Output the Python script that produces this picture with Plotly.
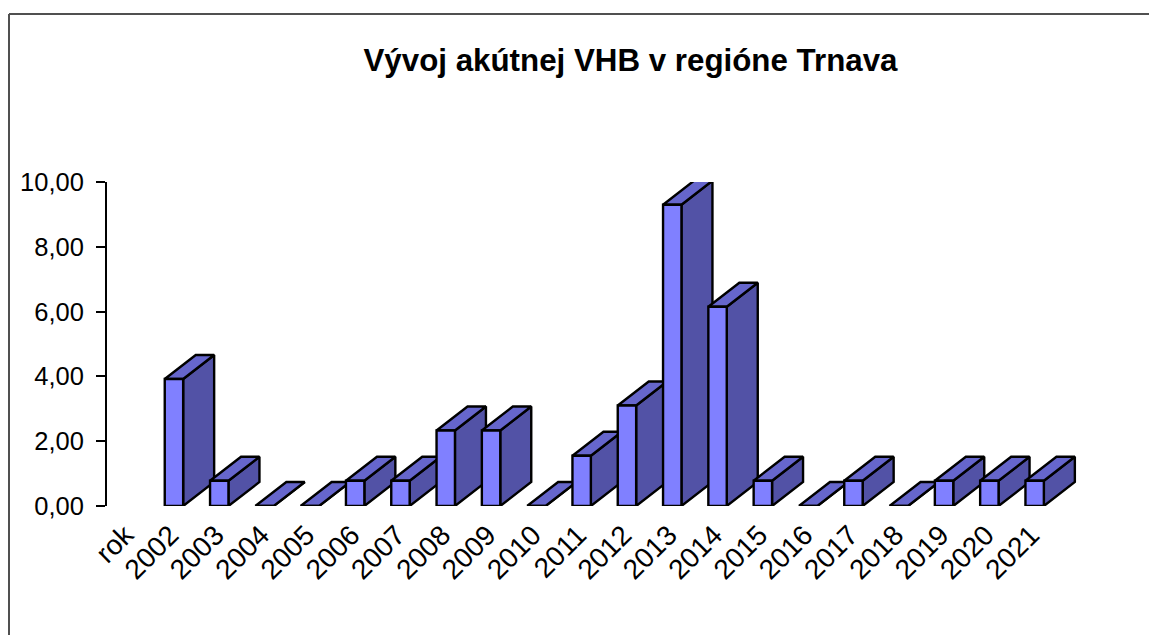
import plotly.graph_objects as go

title = "Vývoj akútnej VHB v regióne Trnava"
categories = ["rok", "2002", "2003", "2004", "2005", "2006", "2007", "2008", "2009", "2010", "2011",
              "2012", "2013", "2014", "2015", "2016", "2017", "2018", "2019", "2020", "2021"]
values = [None, 3.92, 0.78, 0, 0, 0.78, 0.78, 2.33, 2.33, 0, 1.55,
          3.10, 9.30, 6.15, 0.78, 0, 0.78, 0, 0.78, 0.78, 0.78]
y_ticks = [0, 2, 4, 6, 8, 10]

W, H = 1149, 635
L, R, T, B = 107, 0, 182, 129
STEP = 45.3
plot_w = W - L - R
x_min = -0.5 + 1 / STEP
x_max = x_min + plot_w / STEP

half = 9.2 / STEP          # half bar width, category units
dx = 31 / STEP             # depth offset, category units
dy = 24 / 32.4             # depth offset, value units
label_shift = 3.5 / STEP   # rotated labels sit slightly left of the category centre

FRONT, TOP, SIDE = "#8080FF", "#6666CC", "#5252A6"
INK = "#000000"


def face(xs, ys, color):
    return go.Scatter(x=xs, y=ys, mode="lines", fill="toself", fillcolor=color,
                      line=dict(color=INK, width=2.4), cliponaxis=False,
                      showlegend=False, hoverinfo="skip")


fig = go.Figure()
for i, v in enumerate(values):
    if v is None:
        continue
    a, b = i - half, i + half
    fig.add_trace(face([b, b + dx, b + dx, b, b], [0, dy, v + dy, v, 0], SIDE))
    fig.add_trace(face([a, b, b + dx, a + dx, a], [v, v, v + dy, v + dy, v], TOP))
    fig.add_trace(face([a, b, b, a, a], [0, 0, v, v, 0], FRONT))

px = lambda p: (p - L) / plot_w
py = lambda p: 1 - (p - T) / (H - T - B)
frame = dict(type="line", xref="paper", yref="paper", line=dict(color="#505050", width=2))

fig.update_layout(
    width=W, height=H, margin=dict(l=L, r=R, t=T, b=B, pad=0),
    paper_bgcolor="white", plot_bgcolor="white",
    font=dict(family="Liberation Sans, Arial, sans-serif", color="black", size=25.5),
    separators=", ",
    title=dict(text=f"<b>{title}</b>", x=630.5 / W, xanchor="center",
               y=1 - 60 / H, yanchor="middle", font=dict(size=31.3)),
    shapes=[
        dict(frame, x0=px(9), x1=px(9), y0=py(14), y1=py(635)),
        dict(frame, x0=px(9), x1=px(1149), y0=py(14), y1=py(14)),
    ],
    xaxis=dict(range=[x_min, x_max], tickmode="array",
               tickvals=[i - label_shift for i in range(len(categories))],
               ticktext=categories, tickangle=-45, tickfont=dict(size=28), showgrid=False,
               zeroline=False, showline=False, ticks="", ticklabelstandoff=6),
    yaxis=dict(range=[0, 10], tickmode="array", tickvals=y_ticks, tickformat=".2f",
               showgrid=False, zeroline=False, showline=True, linecolor=INK, linewidth=2,
               ticks="outside", ticklen=9, tickwidth=2, tickcolor=INK, ticklabelstandoff=7),
)
fig.write_html("out.html", config=dict(displayModeBar=False),
               post_script="document.body.style.margin='0';")
